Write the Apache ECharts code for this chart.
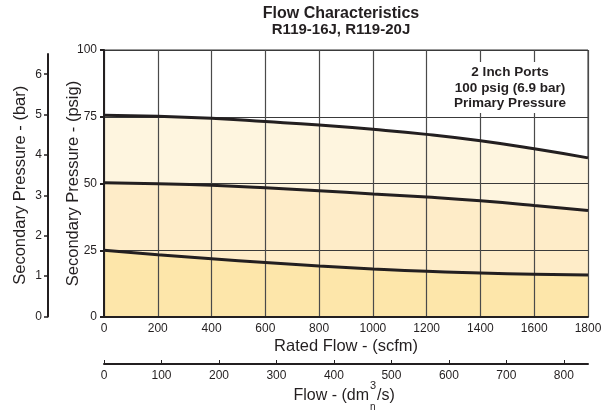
<!DOCTYPE html>
<html>
<head>
<meta charset="utf-8">
<script src="https://cdn.jsdelivr.net/npm/echarts@6/dist/echarts.min.js"></script>
<style>html,body{margin:0;padding:0;background:#fff}#c{width:611px;height:413px}</style>
</head>
<body>
<div id="c"></div>
<script>
// ---- data ----
const flowScfm = [0, 200, 400, 600, 800, 1000, 1200, 1400, 1600, 1800];
const pressureHigh = [75.6, 75.2, 74.4, 73.2, 71.9, 70.3, 68.4, 66.0, 63.0, 59.6];
const pressureMid  = [50.3, 49.9, 49.3, 48.4, 47.3, 46.1, 44.9, 43.5, 41.8, 39.9];
const pressureLow  = [25.0, 23.3, 21.8, 20.4, 19.1, 18.0, 17.1, 16.5, 16.0, 15.7];
const barTicks = [0, 1, 2, 3, 4, 5, 6];
const dm3Ticks = [0, 100, 200, 300, 400, 500, 600, 700, 800];
const titleText = 'Flow Characteristics';
const subTitleText = 'R119-16J, R119-20J';
const noteLines = ['2 Inch Ports', '100 psig (6.9 bar)', 'Primary Pressure'];

const FONT = '"Liberation Sans", Arial, Helvetica, sans-serif';
const INK = '#231f20';
const pts = arr => flowScfm.map((x, i) => [x, arr[i]]);
const plain = v => String(v);

const chart = echarts.init(document.getElementById('c'), null, {renderer: 'canvas'});

function areaSeries(arr, color) {
  return {type: 'line', xAxisIndex: 0, yAxisIndex: 0, data: pts(arr), smooth: 0.5,
    symbol: 'none', z: 1, lineStyle: {width: 0, opacity: 0},
    areaStyle: {color: color, opacity: 1}, silent: true};
}
function lineSeries(arr) {
  return {type: 'line', xAxisIndex: 0, yAxisIndex: 0, data: pts(arr), smooth: 0.5,
    symbol: 'none', z: 6, lineStyle: {width: 3, color: INK}, silent: true};
}

chart.setOption({
  animation: false,
  backgroundColor: '#fff',
  textStyle: {fontFamily: FONT},
  title: {
    text: titleText, subtext: subTitleText,
    left: 336, top: 1, textAlign: 'center', itemGap: 0,
    textStyle: {fontFamily: FONT, fontSize: 16, fontWeight: 'bold', color: INK},
    subtextStyle: {fontFamily: FONT, fontSize: 15, fontWeight: 'bold', color: INK}
  },
  grid: [
    {left: 104, right: 23, top: 50, bottom: 96, show: true, borderColor: '#333', borderWidth: 1},
    {left: 48, width: 1, top: 54, bottom: 96.5},
    {left: 104, right: 23, top: 300, bottom: 49}
  ],
  xAxis: [
    {gridIndex: 0, type: 'value', min: 0, max: 1800, interval: 200, z: 3,
      axisLine: {show: true, lineStyle: {color: INK, width: 2}},
      axisTick: {show: false},
      splitLine: {show: true, lineStyle: {color: '#4a4a4a', width: 1.2}},
      axisLabel: {color: INK, fontSize: 12, margin: 6, fontFamily: FONT, formatter: plain},
      name: 'Rated Flow - (scfm)', nameLocation: 'middle', nameGap: 21, nameMoveOverlap: false,
      nameTextStyle: {color: INK, fontSize: 16.5, fontFamily: FONT}},
    {gridIndex: 1, type: 'value', show: false},
    {gridIndex: 2, type: 'value', min: 0, max: 842, interval: 100, position: 'bottom',
      axisLine: {show: true, lineStyle: {color: INK, width: 2}},
      axisTick: {show: true, inside: true, length: 4, lineStyle: {color: INK, width: 1}, customValues: dm3Ticks},
      splitLine: {show: false},
      axisLabel: {color: INK, fontSize: 12, margin: 6, fontFamily: FONT, formatter: plain,
        customValues: dm3Ticks}}
  ],
  yAxis: [
    {gridIndex: 0, type: 'value', min: 0, max: 100, interval: 25, z: 3,
      axisLine: {show: true, lineStyle: {color: INK, width: 2}},
      axisTick: {show: true, length: 4, lineStyle: {color: INK, width: 2}},
      splitLine: {show: true, lineStyle: {color: '#3a3a3a', width: 1.2}},
      axisLabel: {color: INK, fontSize: 12, margin: 7, fontFamily: FONT, formatter: plain},
      name: 'Secondary Pressure - (psig)', nameLocation: 'middle', nameGap: 22, nameMoveOverlap: false,
      nameTextStyle: {color: INK, fontSize: 16.5, fontFamily: FONT}},
    {gridIndex: 1, type: 'value', min: 0, max: 6.5, interval: 1,
      axisLine: {show: true, lineStyle: {color: INK, width: 2}},
      axisTick: {show: true, length: 4, lineStyle: {color: INK, width: 1.5}, customValues: barTicks},
      splitLine: {show: false},
      axisLabel: {color: INK, fontSize: 12, margin: 6, fontFamily: FONT, formatter: plain, customValues: barTicks},
      name: 'Secondary Pressure - (bar)', nameLocation: 'middle', nameGap: 19, nameMoveOverlap: false,
      nameTextStyle: {color: INK, fontSize: 16.5, fontFamily: FONT}},
    {gridIndex: 2, type: 'value', show: false}
  ],
  series: [
    areaSeries(pressureHigh, '#fef5df'),
    areaSeries(pressureMid, '#feecc8'),
    areaSeries(pressureLow, '#fde6aa'),
    lineSeries(pressureHigh),
    lineSeries(pressureMid),
    lineSeries(pressureLow)
  ],
  graphic: [
    {type: 'rect', z: 20, shape: {x: 446, y: 62, width: 136, height: 51}, style: {fill: '#fff'}},
    {type: 'text', z: 21, style: {
      x: 510, y: 65, text: noteLines.join('\n'), align: 'center', verticalAlign: 'top',
      font: 'bold 13.5px ' + FONT, fill: INK, lineHeight: 15.5}},
    {type: 'text', z: 21, style: {x: 369, y: 396, text: 'Flow - (dm', align: 'right', verticalAlign: 'middle',
      font: '16px ' + FONT, fill: INK}},
    {type: 'text', z: 21, style: {x: 370, y: 386, text: '3', align: 'left', verticalAlign: 'middle',
      font: '11px ' + FONT, fill: INK}},
    {type: 'text', z: 21, style: {x: 377, y: 396, text: '/s)', align: 'left', verticalAlign: 'middle',
      font: '16px ' + FONT, fill: INK}},
    {type: 'text', z: 21, style: {x: 370, y: 407, text: 'n', align: 'left', verticalAlign: 'middle',
      font: '10px ' + FONT, fill: INK}}
  ]
});
</script>
</body>
</html>
